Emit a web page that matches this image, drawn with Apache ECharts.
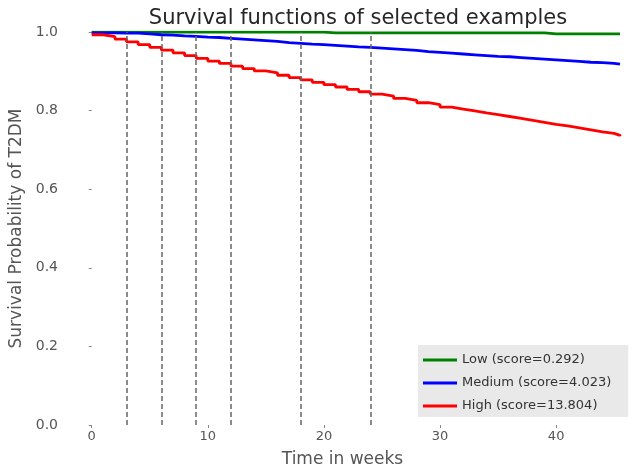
<!DOCTYPE html>
<html>
<head>
<meta charset="utf-8">
<script src="https://cdn.jsdelivr.net/npm/echarts@6/dist/echarts.min.js"></script>
<style>
	html, body { margin: 0; padding: 0; background: #fff; }
	#main { width: 634px; height: 471px; }
</style>
</head>
<body>
<div id="main"></div>
<script>
	var weeks = [0, 1, 2, 3, 4, 5, 6, 7, 8, 9, 10, 11, 12, 13, 14, 15, 16, 17, 18, 19, 20, 21, 22, 23,
		24, 25, 26, 27, 28, 29, 30, 31, 32, 33, 34, 35, 36, 37, 38, 39, 40, 41, 42, 43, 44, 45, 45.5];

	var lowSurv = [0.9995, 0.9995, 0.9995, 0.9995, 0.9995, 0.9995, 0.9995, 0.9995, 0.9995, 0.9995,
		0.9995, 0.9995, 0.9995, 0.9995, 0.9995, 0.9995, 0.9995, 0.9995, 0.9995, 0.9995,
		0.998, 0.998, 0.998, 0.998, 0.998, 0.998, 0.998, 0.998, 0.998, 0.998,
		0.998, 0.998, 0.998, 0.998, 0.998, 0.998, 0.998, 0.998, 0.998,
		0.995, 0.995, 0.995, 0.995, 0.995, 0.995, 0.995, 0.995];

	var mediumSurv = [0.998, 0.998, 0.997, 0.997, 0.995, 0.993, 0.992, 0.990, 0.989, 0.987,
		0.986, 0.984, 0.982, 0.980, 0.978, 0.976, 0.973, 0.971, 0.969, 0.968,
		0.966, 0.964, 0.962, 0.961, 0.959, 0.957, 0.955, 0.953, 0.950, 0.948,
		0.946, 0.944, 0.942, 0.940, 0.938, 0.937, 0.935, 0.933, 0.931, 0.929,
		0.927, 0.925, 0.923, 0.922, 0.920, 0.918, 0.918];

	var highSurv = [0.993, 0.988, 0.982, 0.975, 0.968, 0.961, 0.954, 0.947, 0.940, 0.933,
		0.926, 0.920, 0.913, 0.907, 0.901, 0.896, 0.890, 0.884, 0.878, 0.872,
		0.866, 0.860, 0.854, 0.848, 0.842, 0.837, 0.831, 0.826, 0.820, 0.815,
		0.809, 0.804, 0.799, 0.794, 0.790, 0.785, 0.780, 0.775, 0.770, 0.765,
		0.761, 0.756, 0.751, 0.746, 0.742, 0.737, 0.735];

	var markWeeks = [3, 6, 9, 12, 18, 24];
	var xTicks = [0, 10, 20, 30, 40];
	var yTicks = [0, 0.2, 0.4, 0.6, 0.8, 1.0];

	function pairs(vals) {
		return weeks.map(function(w, i) { return [w, vals[i]]; });
	}

	var myChart = echarts.init(document.getElementById('main'));
	var font = 'DejaVu Sans';
	var option = {
		animation: false,
		title: {
			text: 'Survival functions of selected examples',
			left: 353,
			top: 3,
			textAlign: 'center',
			textStyle: { fontFamily: font, fontSize: 21, fontWeight: 'normal', color: '#262626' }
		},
		legend: {
			left: 418,
			top: 345,
			orient: 'vertical',
			backgroundColor: '#e9e9e9',
			padding: [8, 17, 4, 5],
			itemGap: 9,
			itemWidth: 34,
			itemHeight: 3,
			icon: 'rect',
			textStyle: { fontFamily: font, fontSize: 13, color: '#333', lineHeight: 14 },
			data: ['Low (score=0.292)', 'Medium (score=4.023)', 'High (score=13.804)']
		},
		grid: { left: 65, right: 14, top: 32, bottom: 46, outerBoundsMode: 'none' },
		xAxis: {
			type: 'value',
			min: -2.3,
			max: 45.5,
			name: 'Time in weeks',
			nameLocation: 'middle',
			nameGap: 26,
			nameTextStyle: { fontFamily: font, fontSize: 17, color: '#555' },
			axisLine: { show: false },
			axisTick: { show: true, length: 3, customValues: xTicks, lineStyle: { color: '#888' } },
			axisLabel: { customValues: xTicks, margin: 5, fontFamily: font, fontSize: 13, color: '#555' },
			splitLine: { show: false }
		},
		yAxis: {
			type: 'value',
			min: 0,
			max: 1,
			name: 'Survival Probability of T2DM',
			nameLocation: 'middle',
			nameGap: 35,
			nameTextStyle: { fontFamily: font, fontSize: 17, color: '#555' },
			axisLine: { show: false },
			axisTick: { show: true, length: 3, customValues: yTicks, lineStyle: { color: '#888' } },
			axisLabel: {
				customValues: yTicks,
				margin: 7,
				fontFamily: font,
				fontSize: 14,
				color: '#555',
				formatter: function(v) { return v.toFixed(1); }
			},
			splitLine: { show: false }
		},
		series: [{
			name: 'Low (score=0.292)',
			type: 'line',
			step: 'end',
			symbol: 'none',
			color: '#008000',
			lineStyle: { width: 2.8 },
			data: pairs(lowSurv)
		}, {
			name: 'Medium (score=4.023)',
			type: 'line',
			step: 'end',
			symbol: 'none',
			color: '#0000ff',
			lineStyle: { width: 2.8 },
			data: pairs(mediumSurv)
		}, {
			name: 'High (score=13.804)',
			type: 'line',
			step: 'end',
			symbol: 'none',
			color: '#ff0000',
			lineStyle: { width: 2.8 },
			data: pairs(highSurv),
			markLine: {
				silent: true,
				symbol: 'none',
				label: { show: false },
				lineStyle: { color: '#666', type: [5, 3], width: 1.5 },
				data: markWeeks.map(function(w) { return { xAxis: w }; })
			}
		}]
	};
	myChart.setOption(option);
</script>
</body>
</html>
